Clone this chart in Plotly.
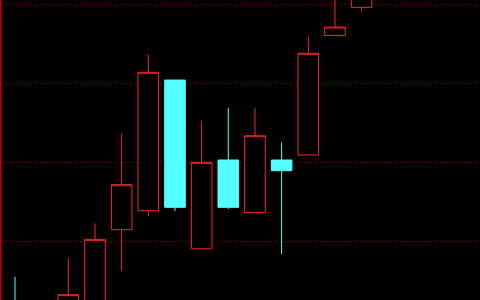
import plotly.graph_objects as go

# Candle index (time slots)
idx = list(range(14))
opens  = [2.30, 1.50, 1.80, 2.20, 11.47, 13.87, 30.39, 9.06, 20.28, 13.62, 20.28, 20.91, 36.04, 39.58]
highs  = [5.52, 2.40, 7.89, 12.28, 23.65, 33.64, 30.39, 25.21, 26.89, 26.89, 22.52, 35.87, 42.00, 43.00]
lows   = [0.80, 1.00, 1.50, 2.00, 6.28, 13.20, 13.83, 9.06, 14.08, 13.62, 8.36, 20.91, 36.04, 38.99]
closes = [1.20, 2.30, 3.25, 10.25, 17.16, 31.37, 14.30, 19.99, 14.30, 23.35, 18.93, 33.77, 37.09, 41.50]
grid_vals = [10, 20, 30, 40]

RED = "rgb(240,40,40)"
CYAN = "rgb(84,255,255)"

fig = go.Figure(go.Candlestick(
    x=idx, open=opens, high=highs, low=lows, close=closes,
    increasing=dict(line=dict(color=RED, width=1), fillcolor="black"),
    decreasing=dict(line=dict(color=CYAN, width=1), fillcolor=CYAN),
    whiskerwidth=0,
    showlegend=False,
    hoverinfo="skip",
))

fig.update_layout(
    width=480, height=300,
    margin=dict(l=0, r=0, t=0, b=0),
    paper_bgcolor="black", plot_bgcolor="black",
    boxgap=0.228, boxgroupgap=0,
    showlegend=False,
    xaxis=dict(range=[-0.5625, 17.44], showgrid=False, zeroline=False,
               showticklabels=False, rangeslider=dict(visible=False), fixedrange=True),
    yaxis=dict(range=[2.58, 40.51], tickvals=grid_vals, showticklabels=False,
               showgrid=True, gridcolor="rgb(140,0,0)", gridwidth=1, griddash="2px,3px",
               zeroline=False, fixedrange=True),
    shapes=[dict(type="line", xref="paper", yref="paper", x0=0, x1=0, y0=0, y1=1,
                 line=dict(color="rgb(190,0,0)", width=3))],
)

fig.write_html("out.html")
